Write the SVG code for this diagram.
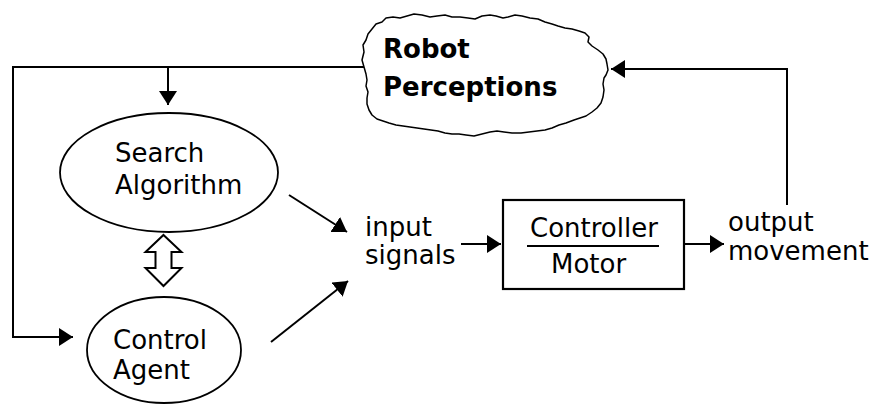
<svg xmlns="http://www.w3.org/2000/svg" width="871" height="405" viewBox="0 0 871 405">
  <style>
    text { font-family: "DejaVu Sans", "Liberation Sans", sans-serif; font-size: 26px; fill: #000; }
    .bold { font-weight: bold; }
    .wire { fill: none; stroke: #000; stroke-width: 2; marker-end: url(#ah); }
    .plain { fill: none; stroke: #000; stroke-width: 2; }
    .oval { fill: #fff; stroke: #000; stroke-width: 1.8; }
  </style>
  <defs>
    <marker id="ah" markerUnits="userSpaceOnUse" markerWidth="15" markerHeight="19" refX="14" refY="9" orient="auto">
      <path d="M0,0 L14,9 L0,18 z" fill="#000"/>
    </marker>
  </defs>
  <rect width="871" height="405" fill="#fff"/>

  <!-- connectors -->
  <g id="connectors">
    <path class="wire" d="M364,67 H13 V337 H73"/>
    <path class="wire" d="M168,67 V105"/>
    <path class="wire" d="M787,205 V69 H611"/>
    <path class="wire" d="M289,195 L347,232"/>
    <path class="wire" d="M271,342 L348,281"/>
    <path class="wire" d="M461,244 H501"/>
    <path class="wire" d="M685,244 H724"/>
    <!-- two-way link between search and agent -->
    <polygon points="163.5,235 181.5,252 171.5,252 171.5,268 181.5,268 163.5,286 145.5,268 155.5,268 155.5,252 145.5,252" fill="#fff" stroke="#000" stroke-width="2" stroke-linejoin="miter"/>
  </g>

  <!-- perception cloud -->
  <g id="perceptions">
    <path d="M364,67 L362,60 L364,52 L363,45 L366,40 L368,34 L372,29 L376,24 L382,22 L386,18 L393,17 L400,18 L407,16 L414,14 L422,15 L430,17 L437,16 L445,15 L452,17 L460,17 L468,18 L475,19 L482,16 L490,15 L496,16 L503,18 L508,17 L515,15 L522,16 L530,18 L538,19 L545,22 L552,24 L558,26 L565,28 L572,29 L579,31 L585,33 L589,37 L588,42 L592,46 L598,50 L603,54 L606,59 L607,64 L608,70 L606,75 L604,78 L603,84 L604,90 L603,97 L601,103 L597,108 L592,112 L586,116 L580,118 L574,120 L566,123 L559,125 L552,128 L545,130 L537,131 L529,132 L521,133 L512,133 L504,132 L497,131 L490,132 L482,134 L474,136 L466,135 L459,134 L452,134 L445,133 L438,131 L431,130 L424,129 L417,128 L410,127 L403,126 L396,125 L389,123 L383,121 L377,119 L372,115 L369,110 L367,104 L367,98 L368,92 L366,86 L367,80 L366,74 Z" fill="#fff" stroke="#000" stroke-width="1.5" stroke-linejoin="round"/>
    <text class="bold" x="383" y="58">Robot</text>
    <text class="bold" x="383" y="96">Perceptions</text>
  </g>

  <!-- search algorithm -->
  <g id="search">
    <ellipse class="oval" cx="169" cy="172.5" rx="109" ry="59.5"/>
    <text x="115" y="162">Search</text>
    <text x="115" y="194">Algorithm</text>
  </g>

  <!-- control agent -->
  <g id="agent">
    <ellipse class="oval" cx="164" cy="350" rx="77" ry="53"/>
    <text x="113" y="349">Control</text>
    <text x="113" y="379">Agent</text>
  </g>

  <!-- input label -->
  <g id="input">
    <text x="365" y="236">input</text>
    <text x="365" y="264">signals</text>
  </g>

  <!-- controller / motor block -->
  <g id="controller">
    <rect x="503" y="200" width="181" height="89" fill="#fff" stroke="#000" stroke-width="2.2"/>
    <line class="plain" x1="527" y1="246" x2="659" y2="246"/>
    <text x="530" y="237">Controller</text>
    <text x="551" y="273">Motor</text>
  </g>

  <!-- output label -->
  <g id="output">
    <text x="728" y="231">output</text>
    <text x="728" y="260">movement</text>
  </g>
</svg>
